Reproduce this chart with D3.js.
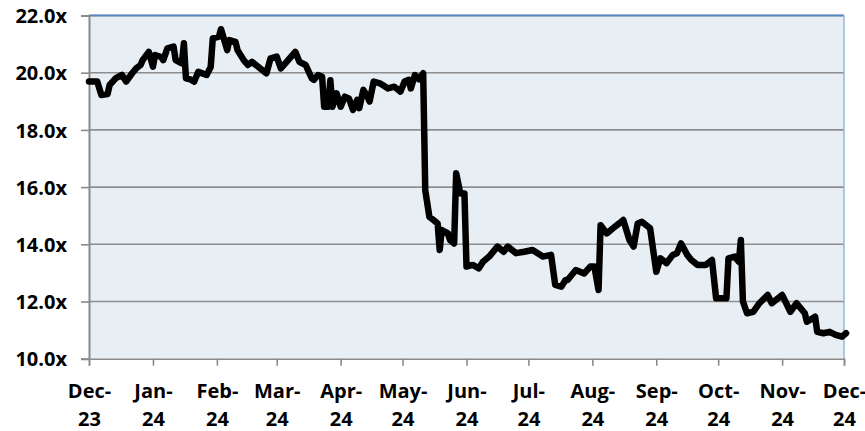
<!DOCTYPE html>
<html>
<head>
<meta charset="utf-8">
<script src="https://cdnjs.cloudflare.com/ajax/libs/d3/7.8.5/d3.min.js"></script>
<style>
  body { margin: 0; background: #fff; }
  .tick-label { font-family: 'Open Sans', sans-serif; font-weight: 700; font-size: 20px; fill: #000; }
</style>
</head>
<body>
<svg id="chart"></svg>
<script>
'use strict';

// Multiple (x), by date
var dates = [
  '2023-12-01','2023-12-05','2023-12-07','2023-12-10','2023-12-11','2023-12-14','2023-12-17','2023-12-19',
  '2023-12-22','2023-12-24','2023-12-26','2023-12-27','2023-12-30','2024-01-01','2024-01-02','2024-01-05',
  '2024-01-06','2024-01-08','2024-01-11','2024-01-12','2024-01-15','2024-01-16','2024-01-17','2024-01-19',
  '2024-01-21','2024-01-23','2024-01-27','2024-01-29','2024-01-30','2024-02-02','2024-02-03','2024-02-06',
  '2024-02-07','2024-02-10','2024-02-11','2024-02-14','2024-02-16','2024-02-18','2024-02-21','2024-02-24',
  '2024-02-25','2024-02-27','2024-03-01','2024-03-03','2024-03-06','2024-03-10','2024-03-12','2024-03-15',
  '2024-03-18','2024-03-19','2024-03-21','2024-03-23','2024-03-24','2024-03-26','2024-03-27','2024-03-28',
  '2024-03-30','2024-04-01','2024-04-03','2024-04-05','2024-04-07','2024-04-09','2024-04-10','2024-04-12',
  '2024-04-14','2024-04-15','2024-04-17','2024-04-20','2024-04-24','2024-04-27','2024-04-30','2024-05-02',
  '2024-05-04','2024-05-05','2024-05-07','2024-05-09','2024-05-11','2024-05-12','2024-05-14','2024-05-16',
  '2024-05-18','2024-05-19','2024-05-20','2024-05-23','2024-05-24','2024-05-26','2024-05-27','2024-05-29',
  '2024-05-31','2024-06-01','2024-06-04','2024-06-07','2024-06-09','2024-06-12','2024-06-16','2024-06-19',
  '2024-06-21','2024-06-25','2024-06-29','2024-07-03','2024-07-08','2024-07-12','2024-07-14','2024-07-17',
  '2024-07-19','2024-07-20','2024-07-24','2024-07-28','2024-07-31','2024-08-02','2024-08-04','2024-08-05',
  '2024-08-08','2024-08-11','2024-08-14','2024-08-16','2024-08-19','2024-08-21','2024-08-23','2024-08-25',
  '2024-08-29','2024-09-01','2024-09-03','2024-09-06','2024-09-09','2024-09-11','2024-09-13','2024-09-16',
  '2024-09-18','2024-09-21','2024-09-25','2024-09-28','2024-09-30','2024-10-05','2024-10-06','2024-10-09',
  '2024-10-11','2024-10-12','2024-10-13','2024-10-15','2024-10-18','2024-10-21','2024-10-25','2024-10-27',
  '2024-11-01','2024-11-03','2024-11-05','2024-11-08','2024-11-12','2024-11-13','2024-11-17','2024-11-18',
  '2024-11-21','2024-11-24','2024-11-27','2024-11-30','2024-12-02'
];
var multiples = [
  19.69, 19.69, 19.22, 19.25, 19.57, 19.81, 19.92, 19.69,
  19.99, 20.16, 20.27, 20.44, 20.73, 20.21, 20.62, 20.55,
  20.44, 20.85, 20.91, 20.44, 20.33, 21.03, 19.80, 19.77,
  19.69, 20.03, 19.92, 20.20, 21.20, 21.26, 21.52, 20.79,
  21.14, 21.08, 20.79, 20.44, 20.27, 20.38, 20.21, 20.03,
  19.98, 20.50, 20.56, 20.15, 20.40, 20.73, 20.38, 20.27,
  19.80, 19.75, 19.92, 19.86, 18.81, 18.81, 19.74, 18.81,
  19.28, 18.81, 19.16, 19.10, 18.70, 19.05, 18.76, 19.40,
  19.16, 18.99, 19.69, 19.63, 19.45, 19.51, 19.34, 19.69,
  19.75, 19.45, 19.92, 19.77, 19.98, 15.89, 14.96, 14.85,
  14.73, 13.80, 14.50, 14.38, 14.15, 14.03, 16.48, 15.78,
  15.78, 13.22, 13.28, 13.16, 13.39, 13.57, 13.92, 13.74,
  13.92, 13.69, 13.74, 13.80, 13.57, 13.63, 12.58, 12.52,
  12.75, 12.75, 13.10, 12.98, 13.22, 13.22, 12.40, 14.67,
  14.38, 14.56, 14.73, 14.85, 14.15, 13.92, 14.73, 14.79,
  14.56, 13.04, 13.51, 13.34, 13.63, 13.69, 14.03, 13.63,
  13.45, 13.28, 13.28, 13.45, 12.11, 12.11, 13.51, 13.57,
  13.39, 14.15, 12.00, 11.59, 11.64, 11.94, 12.23, 11.94,
  12.23, 11.94, 11.64, 11.94, 11.59, 11.29, 11.47, 10.94,
  10.89, 10.94, 10.83, 10.77, 10.89
];
var yTicks = [10, 12, 14, 16, 18, 20, 22];
var monthTicks = [
  '2023-12-01','2024-01-01','2024-02-01','2024-03-01','2024-04-01','2024-05-01','2024-06-01',
  '2024-07-01','2024-08-01','2024-09-01','2024-10-01','2024-11-01','2024-12-01'
];

var canvasWidth = 865,
  canvasHeight = 431,
  margin = { top: 15.5, right: 21, bottom: 72.3, left: 89 },
  width = canvasWidth - margin.left - margin.right,
  height = canvasHeight - margin.top - margin.bottom,
  parseDate = d3.timeParse('%Y-%m-%d');

var data = dates.map(function(d, i) {
  return { date: parseDate(d), value: multiples[i] };
});
var tickDates = monthTicks.map(parseDate);

var svg = d3.select('#chart')
  .attr('width', canvasWidth)
  .attr('height', canvasHeight);

var g = svg.append('g')
  .attr('transform', 'translate(' + margin.left + ',' + margin.top + ')');

var xScale = d3.scaleTime()
  .domain([tickDates[0], tickDates[tickDates.length - 1]])
  .range([0, width]);
var yScale = d3.scaleLinear()
  .domain([10, 22])
  .range([height, 0]);

// plot background
g.append('rect')
  .attr('width', width)
  .attr('height', height)
  .attr('fill', '#e8eff4');

// gridlines
g.selectAll('.grid')
  .data(yTicks.slice(1))
  .enter().append('line')
    .attr('x1', 0)
    .attr('x2', width)
    .attr('y1', function(d) { return yScale(d); })
    .attr('y2', function(d) { return yScale(d); })
    .attr('stroke', '#8e8e8e')
    .attr('stroke-width', 1.6);

// top and right borders
g.append('line')
  .attr('x1', 0).attr('x2', width).attr('y1', 0).attr('y2', 0)
  .attr('stroke', '#5b87c0').attr('stroke-width', 2);
g.append('line')
  .attr('x1', width).attr('x2', width).attr('y1', 0).attr('y2', height)
  .attr('stroke', '#94b6e0').attr('stroke-width', 1.5);

// y axis
var yAxis = g.append('g')
  .call(d3.axisLeft(yScale)
    .tickValues(yTicks)
    .tickSize(8)
    .tickPadding(14)
    .tickFormat(function(d) { return d3.format('.1f')(d) + 'x'; }));
yAxis.select('.domain').attr('stroke', '#8a8a8a').attr('stroke-width', 2);
yAxis.selectAll('.tick line').attr('stroke', '#8a8a8a').attr('stroke-width', 1.6);
yAxis.selectAll('.tick text')
  .attr('class', 'tick-label')
  .attr('fill', '#000')
  .attr('dy', '0.36em');
yAxis.attr('font-family', null).attr('font-size', null);

// x axis with two-line month labels
var xAxis = g.append('g')
  .attr('transform', 'translate(0,' + height + ')')
  .call(d3.axisBottom(xScale)
    .tickValues(tickDates)
    .tickSize(7)
    .tickFormat(''));
xAxis.select('.domain').attr('stroke', '#8a8a8a').attr('stroke-width', 1.6);
xAxis.selectAll('.tick line').attr('stroke', '#8a8a8a').attr('stroke-width', 1.6);
xAxis.attr('font-family', null).attr('font-size', null);

var monthFmt = d3.timeFormat('%b-'),
  yearFmt = d3.timeFormat('%y');
xAxis.selectAll('.tick text').remove();
xAxis.selectAll('.tick').each(function(d) {
  var t = d3.select(this).append('text')
    .attr('class', 'tick-label')
    .attr('text-anchor', 'middle');
  t.append('tspan').attr('x', 0).attr('y', 39).text(monthFmt(d));
  t.append('tspan').attr('x', 0).attr('y', 67.5).text(yearFmt(d));
});

// the multiple line
var line = d3.line()
  .x(function(d) { return xScale(d.date); })
  .y(function(d) { return yScale(d.value); });

g.append('path')
  .datum(data)
  .attr('d', line)
  .attr('fill', 'none')
  .attr('stroke', '#000')
  .attr('stroke-width', 6.5)
  .attr('stroke-linejoin', 'round')
  .attr('stroke-linecap', 'round');
</script>
</body>
</html>
